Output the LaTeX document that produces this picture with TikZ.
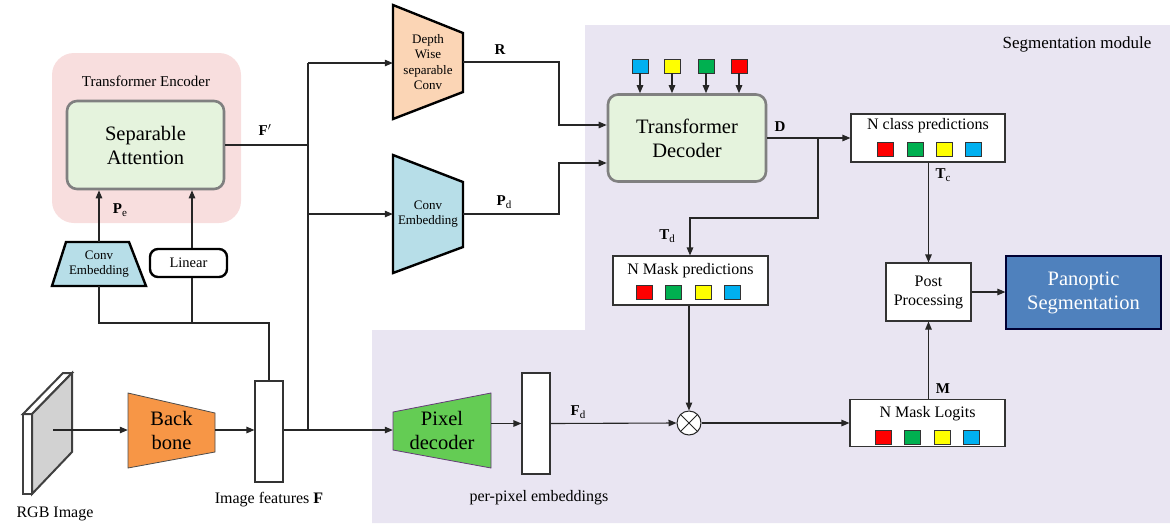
\documentclass[tikz,border=0pt]{standalone}
\usepackage{fontspec}
\setmainfont{Liberation Serif}
\usetikzlibrary{arrows.meta,calc}
\definecolor{segbg}{RGB}{233,229,242}
\definecolor{encpink}{RGB}{248,222,222}
\definecolor{lgreen}{RGB}{229,243,221}
\definecolor{bordgray}{RGB}{128,128,128}
\definecolor{lblue}{RGB}{183,222,232}
\definecolor{peach}{RGB}{251,213,181}
\definecolor{bborange}{RGB}{247,150,70}
\definecolor{pxgreen}{RGB}{100,204,84}
\definecolor{pxborder}{RGB}{100,60,120}
\definecolor{panblue}{RGB}{79,129,189}
\definecolor{sqred}{RGB}{255,0,0}
\definecolor{sqgreen}{RGB}{0,176,80}
\definecolor{sqyellow}{RGB}{255,255,0}
\definecolor{sqcyan}{RGB}{0,176,240}
\definecolor{imggray}{RGB}{210,210,210}
\newcommand{\lsub}[1]{\raisebox{-0.22em}{\fontsize{11}{11}\selectfont\mdseries #1}}
\begin{document}
\begin{tikzpicture}[x=1pt,y=-1pt,
  conn/.style={draw=black!85, line width=1.1pt},
  arr/.style={conn, -{Triangle[length=8pt,width=6.5pt]}},
  bigf/.style={font=\fontsize{20.5}{24}\selectfont, align=center},
  medf/.style={font=\fontsize{16}{19}\selectfont, align=center},
  smallf/.style={font=\fontsize{13}{15.6}\selectfont, align=center},
  lbl/.style={font=\bfseries\fontsize{15}{18}\selectfont},
  trap/.style={draw=black, line width=2.4pt, line join=miter},
  ghost/.style={inner sep=0pt},
  outbox/.style={draw=black!80, line width=1.1pt, fill=white, inner sep=0pt},
  sq/.style={draw=black!80, line width=0.8pt, minimum width=16pt, minimum height=14pt, inner sep=0pt},
  roundbox/.style={draw=bordgray, line width=2.6pt, fill=lgreen, rounded corners=10pt, inner sep=0pt}
]
\useasboundingbox (0,0) rectangle (1170,523);

% segmentation module background
\fill[segbg] (585,25) -- (1170,25) -- (1170,523) -- (372,523) -- (372,330) -- (585,330) -- cycle;
\node[font=\fontsize{17}{20}\selectfont] (segtitle) at (1077,44) {Segmentation module};

% transformer encoder
\node[fill=encpink, rounded corners=22pt, minimum width=189pt, minimum height=170pt, inner sep=0pt] (enc) at (146.5,138) {};
\node[font=\fontsize{15}{18}\selectfont] (enctitle) at (146,81) {Transformer Encoder};
\node[roundbox, minimum width=157pt, minimum height=88pt] (sep) at (145.5,145) {};
\node[bigf] (septext) at (sep.center) {Separable\\Attention};

% small conv embedding
\draw[trap, fill=lblue] (66,242) -- (129,242) -- (146,286) -- (52,286) -- cycle;
\node[ghost, minimum width=94pt, minimum height=44pt] (ce1) at (99,264) {};
\node[smallf] (ce1text) at (ce1.center) {Conv\\Embedding};
% linear
\node[draw=black, line width=2.4pt, rounded corners=8pt, fill=white, minimum width=77pt, minimum height=28pt, inner sep=0pt] (lin) at (188.5,263) {};
\node[font=\fontsize{14.5}{17}\selectfont] (lintext) at (lin.center) {Linear};

% RGB image
\begin{scope}[draw=black!75, line width=2pt, line join=miter]
\filldraw[fill=white] (23,414) -- (32,414) -- (32,494) -- (23,494) -- cycle;
\filldraw[fill=white] (23,414) -- (63,373) -- (72,373) -- (32,414) -- cycle;
\filldraw[fill=imggray] (32,414) -- (72,373) -- (72,452) -- (32,494) -- cycle;
\end{scope}
\coordinate (rgb) at (53,430);
\node[medf] (rgblabel) at (55,514) {RGB Image};

% backbone
\draw[draw=black!70, line width=0.8pt, fill=bborange] (128,393) -- (215,413) -- (215,452) -- (128,468) -- cycle;
\node[ghost, minimum width=87pt, minimum height=75pt] (bb) at (171.5,430.5) {};
\node[bigf] (bbtext) at (bb.center) {Back\\bone};

% image features
\node[outbox, minimum width=28pt, minimum height=101pt] (imf) at (269,431.5) {};
\node[medf] (imflabel) at (269,500) {Image features \textbf{F}};

% depthwise separable conv
\draw[trap, fill=peach] (393,5) -- (463,33) -- (463,92) -- (393,119) -- cycle;
\node[ghost, minimum width=70pt, minimum height=114pt] (dw) at (428,62) {};
\node[smallf] (dwtext) at (dw.center) {Depth\\Wise\\separable\\Conv};

% conv embedding (decoder)
\draw[trap, fill=lblue] (393,155) -- (463,182) -- (463,247) -- (393,273) -- cycle;
\node[ghost, minimum width=70pt, minimum height=118pt] (ce2) at (428,214) {};
\node[smallf] (ce2text) at (ce2.center) {Conv\\Embedding};

% pixel decoder
\draw[draw=pxborder, line width=0.8pt, fill=pxgreen] (393,412) -- (491,393) -- (491,468) -- (393,450) -- cycle;
\node[ghost, minimum width=98pt, minimum height=75pt] (pd) at (442,430.5) {};
\node[bigf] (pdtext) at (pd.center) {Pixel\\decoder};

% per-pixel embeddings
\node[outbox, minimum width=28pt, minimum height=101pt] (ppe) at (536,423.5) {};
\node[medf] (ppelabel) at (539,498) {per-pixel embeddings};

% transformer decoder
\node[roundbox, minimum width=158pt, minimum height=87pt] (td) at (687,138) {};
\node[bigf] (tdtext) at (td.center) {Transformer\\Decoder};
\node[sq, fill=sqcyan] (q1) at (640,66) {};
\node[sq, fill=sqyellow] (q2) at (672,66) {};
\node[sq, fill=sqgreen] (q3) at (706,66) {};
\node[sq, fill=sqred] (q4) at (739,66) {};

% N class predictions
\node[outbox, minimum width=154pt, minimum height=48pt] (ncp) at (928,138) {};
\node[medf] (ncptext) at (928,126) {N class predictions};
\node[sq, fill=sqred] (c1) at (885,149) {};
\node[sq, fill=sqgreen] (c2) at (915,149) {};
\node[sq, fill=sqyellow] (c3) at (944,149) {};
\node[sq, fill=sqcyan] (c4) at (973,149) {};

% N mask predictions
\node[outbox, minimum width=155pt, minimum height=49pt] (nmp) at (690.5,280.5) {};
\node[medf] (nmptext) at (690.5,271) {N Mask predictions};
\node[sq, fill=sqred] (m1) at (644,292) {};
\node[sq, fill=sqgreen] (m2) at (673,292) {};
\node[sq, fill=sqyellow] (m3) at (703,292) {};
\node[sq, fill=sqcyan] (m4) at (732,292) {};

% post processing
\node[outbox, minimum width=85pt, minimum height=58pt] (pp) at (928.5,292) {};
\node[medf] (pptext) at (pp.center) {Post\\Processing};
% panoptic segmentation
\node[draw=black!80!blue, line width=1.2pt, fill=panblue, minimum width=155pt, minimum height=73pt, inner sep=0pt] (pan) at (1083.5,292.5) {};
\node[bigf, text=white] (pantext) at (pan.center) {Panoptic\\Segmentation};

% N mask logits
\node[outbox, minimum width=155pt, minimum height=47pt] (nml) at (927.5,423) {};
\node[medf] (nmltext) at (927.5,414) {N Mask Logits};
\node[sq, fill=sqred] (l1) at (883,437) {};
\node[sq, fill=sqgreen] (l2) at (912,437) {};
\node[sq, fill=sqyellow] (l3) at (942,437) {};
\node[sq, fill=sqcyan] (l4) at (971,437) {};

% otimes
\node[circle, draw=black!85, line width=1pt, fill=white, minimum size=24pt, inner sep=0pt] (ot) at (689,423) {};
\draw[black!85, line width=1pt] (ot.north west) -- (ot.south east) (ot.north east) -- (ot.south west);

% ---------- connectors ----------
\coordinate (fj) at (308,430);
\coordinate (ftop) at (308,63);
\coordinate (fmid) at (308,214);
\coordinate (fprime) at (308,145);
\coordinate (imj) at (269,323);
\coordinate (cej) at (99,323);
\coordinate (linj) at (192,323);

\draw[arr] (rgb) -- (bb.west |- rgb);
\draw[arr] (bb.east |- rgb) -- (imf.west |- rgb);
\draw[arr] (imf.east |- fj) -- (pd.west |- fj);
\draw[conn] (fj) -- (ftop);
\draw[arr] (ftop) -- (dw.west |- ftop);
\draw[arr] (fmid) -- (ce2.west |- fmid);
\draw[conn] (sep.east) -- (fprime);
\draw[conn] (imf.north) -- (imj) -- (cej) -- (ce1.south);
\draw[conn] (lin.south -| linj) -- (linj);
\draw[arr] (ce1.north) -- (ce1.north |- sep.south);
\draw[arr] (lin.north -| linj) -- (linj |- sep.south);

% decoder inputs
\coordinate (rb) at (559,62);
\coordinate (rb2) at (559,125);
\draw[arr] (dw.east) -- (rb) -- (rb2) -- (td.west |- rb2);
\coordinate (pb) at (559,214);
\coordinate (pb2) at (559,163);
\draw[arr] (ce2.east) -- (pb) -- (pb2) -- (td.west |- pb2);
\foreach \q in {q1,q2,q3,q4} \draw[arr] (\q.south) -- (\q.south |- td.north);

% D and Td
\coordinate (dj) at (818,138);
\coordinate (dj2) at (818,218);
\coordinate (dj3) at (690,218);
\draw[arr] (td.east |- dj) -- (ncp.west);
\draw[arr] (dj) -- (dj2) -- (dj3) -- (nmp.north -| dj3);

% masks
\draw[arr] (nmp.south -| ot) -- (ot.north);
\draw[arr] (pd.east |- ppe.west) -- (ppe.west);
\draw[arr] (ppe.east) -- (ot.west);
\draw[arr] (ot.east) -- (nml.west |- ot);
\draw[arr] (ncp.south -| pp.north) -- (pp.north);
\draw[arr] (nml.north -| pp.south) -- (pp.south);
\draw[arr] (pp.east) -- (pan.west |- pp.east);

% labels
\node[lbl] (lf) at (265,130) {F$'$};
\node[lbl] (lpe) at (120,210) {P\lsub{e}};
\node[lbl] (lr) at (500,50) {R};
\node[lbl] (lpd) at (504,202) {P\lsub{d}};
\node[lbl] (ld) at (780,127) {D};
\node[lbl] (ltd) at (667,236) {T\lsub{d}};
\node[lbl] (ltc) at (943,175) {T\lsub{c}};
\node[lbl] (lfd) at (578,412) {F\lsub{d}};
\node[lbl] (lm) at (943,389) {M};
\end{tikzpicture}
\end{document}
